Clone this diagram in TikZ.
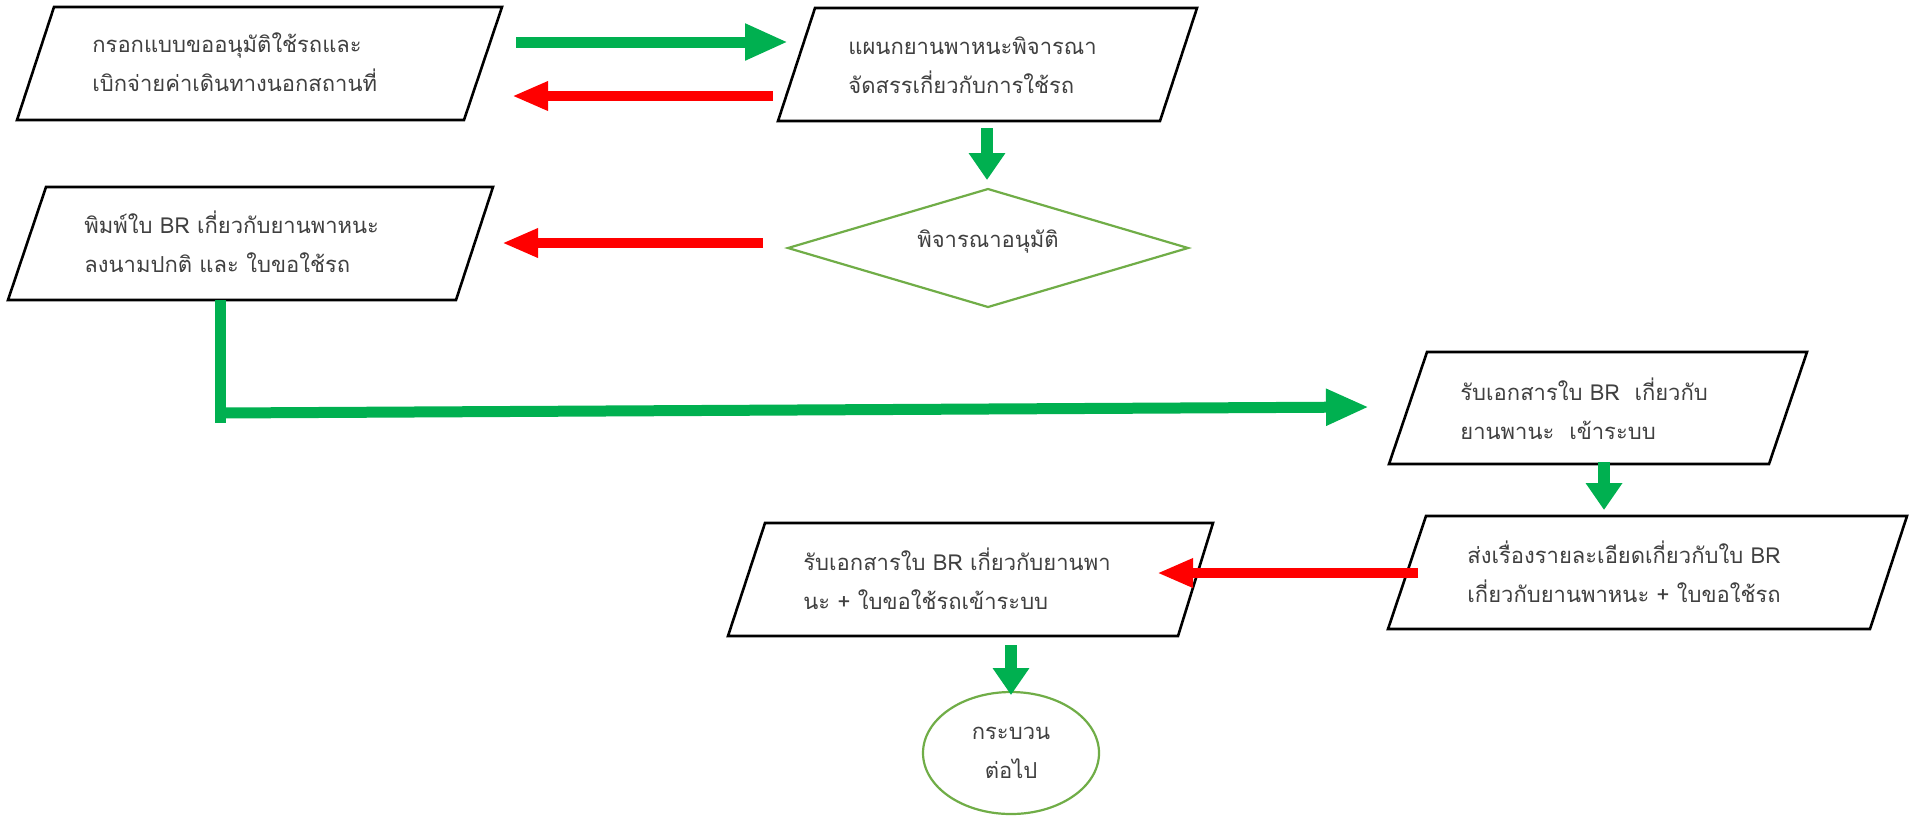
\documentclass[tikz,border=0pt]{standalone}
\usepackage{fontspec}
\newfontfamily\thaifont[Script=Thai]{Loma}
\usetikzlibrary{arrows.meta}
\definecolor{ogreen}{HTML}{00B050}
\definecolor{ored}{HTML}{FF0000}
\definecolor{lgreen}{HTML}{70AD47}
\definecolor{txt}{HTML}{404040}
\begin{document}
\begin{tikzpicture}[x=0.5pt,y=-0.5pt,
  box/.style={draw=black,line width=1.3pt,line join=miter},
  gshape/.style={draw=lgreen,line width=1.1pt},
  lbl/.style={anchor=west,align=left,text=txt,inner sep=0pt,font=\thaifont\fontsize{11}{19.5}\selectfont},
  garrowh/.style={draw=ogreen,line width=5.5pt,-{Triangle[length=21.5pt,width=17pt]}},
  garrowv/.style={draw=ogreen,line width=5.8pt,-{Triangle[length=13.5pt,width=17.5pt]}},
  rarrow/.style={draw=ored,line width=4.6pt,-{Triangle[length=18pt,width=13.5pt]}}]
\useasboundingbox (0,0) rectangle (1914,816);
\fill[white] (0,0) rectangle (1914,816);
% boxes
\draw[box] (54,7) -- (502,7) -- (464,120) -- (17,120) -- cycle;
\node[lbl] (t1) at (92,62.5) {กรอกแบบขออนุมัติใช้รถและ\\เบิกจ่ายค่าเดินทางนอกสถานที่};
\draw[box] (815,8) -- (1197,8) -- (1160,121) -- (778,121) -- cycle;
\node[lbl] (t2) at (848,65) {แผนกยานพาหนะพิจารณา\\จัดสรรเกี่ยวกับการใช้รถ};
\draw[gshape] (988,189) -- (1188,248) -- (988,307) -- (788,248) -- cycle;
\node[lbl,anchor=center] (t3) at (988,242) {พิจารณาอนุมัติ};
\draw[box] (46,187) -- (493,187) -- (456,300) -- (8,300) -- cycle;
\node[lbl] (t4) at (84,241.5) {พิมพ์ใบ BR เกี่ยวกับยานพาหนะ\\ลงนามปกติ และ ใบขอใช้รถ};
\draw[box] (1427,352) -- (1807,352) -- (1769,464) -- (1389,464) -- cycle;
\node[lbl] (t5) at (1460,408.5) {รับเอกสารใบ BR\ \ เกี่ยวกับ\\ยานพานะ\ \ เข้าระบบ};
\draw[box] (1426,516) -- (1907,516) -- (1870,629) -- (1388,629) -- cycle;
\node[lbl] (t6) at (1467,572) {ส่งเรื่องรายละเอียดเกี่ยวกับใบ BR\\เกี่ยวกับยานพาหนะ + ใบขอใช้รถ};
\draw[box] (765,523) -- (1213,523) -- (1178,636) -- (728,636) -- cycle;
\node[lbl] (t7) at (803,578.5) {รับเอกสารใบ BR เกี่ยวกับยานพา\\นะ + ใบขอใช้รถเข้าระบบ};
\draw[gshape] (1011,753) ellipse [x radius=44pt, y radius=30.5pt];
\node[lbl,anchor=center,align=center] (t8) at (1011,752.5) {กระบวน\\ต่อไป};
% arrow end points
\coordinate (a1s) at (516,42);  \coordinate (a1e) at (788,42);
\coordinate (a2s) at (773,96);  \coordinate (a2e) at (512,96);
\coordinate (a3s) at (987,128); \coordinate (a3e) at (987,180);
\coordinate (a4s) at (763,243); \coordinate (a4e) at (502,243);
\coordinate (a5s) at (220,300); \coordinate (a5m) at (220,423);
\coordinate (a5c) at (220,413); \coordinate (a5e) at (1369,407);
\coordinate (a6s) at (1604,462); \coordinate (a6e) at (1604,510);
\coordinate (a7s) at (1418,573); \coordinate (a7e) at (1157,573);
\coordinate (a8s) at (1011,645); \coordinate (a8e) at (1011,695);
% arrows
\draw[garrowh] (a1s) -- (a1e);
\draw[rarrow] (a2s) -- (a2e);
\draw[garrowv] (a3s) -- (a3e);
\draw[rarrow] (a4s) -- (a4e);
\draw[draw=ogreen,line width=5.5pt] (a5s) -- (a5m);
\draw[garrowh] (a5c) -- (a5e);
\draw[garrowv] (a6s) -- (a6e);
\draw[rarrow] (a7s) -- (a7e);
\draw[garrowv] (a8s) -- (a8e);
\end{tikzpicture}
\end{document}
